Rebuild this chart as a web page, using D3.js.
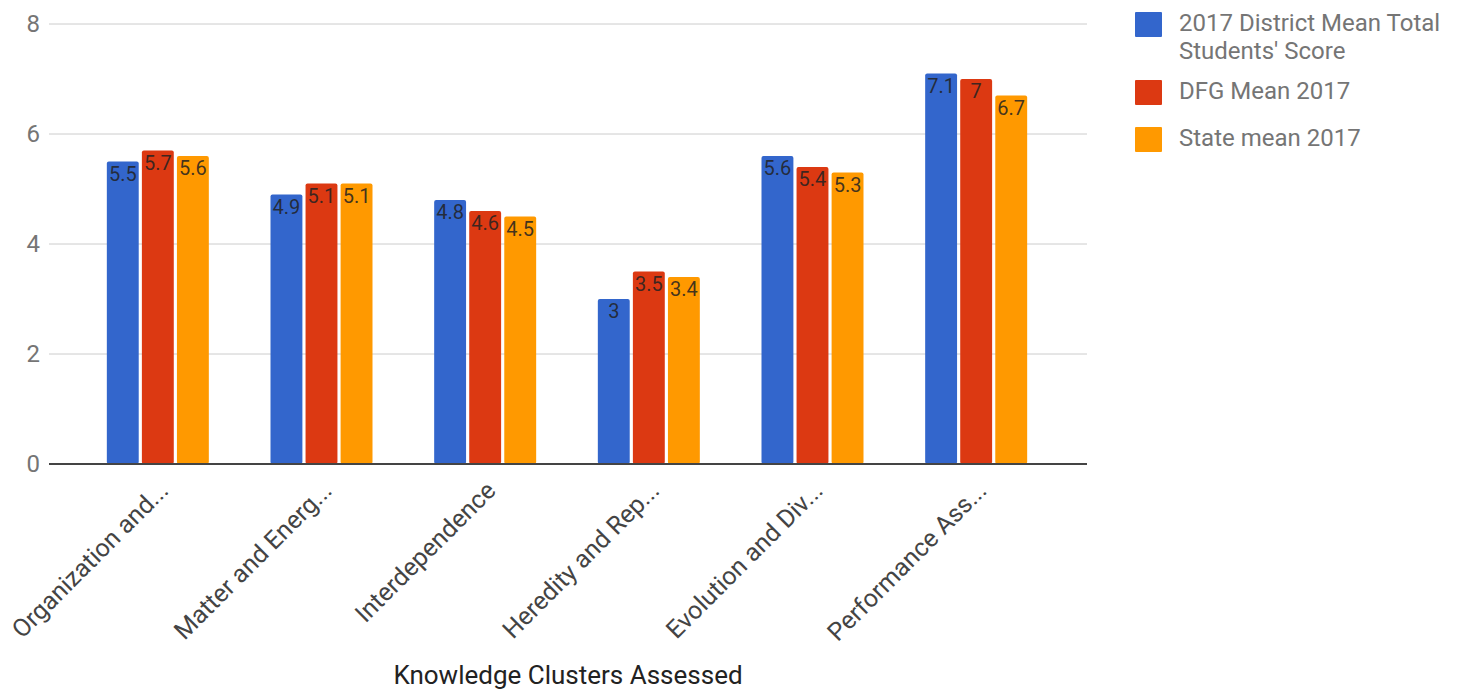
<!DOCTYPE html>
<html>
<head>
<meta charset="utf-8">
<script src="https://cdn.jsdelivr.net/npm/d3@7"></script>
<style>
  body { margin: 0; background: #fff; font-family: Roboto, Arial, sans-serif; }
</style>
</head>
<body>
<svg id="chart"></svg>
<script>
const categories = ['Organization and...', 'Matter and Energ...', 'Interdependence', 'Heredity and Rep...', 'Evolution and Div...', 'Performance Ass...'];
const seriesNames = ["2017 District Mean Total Students' Score", 'DFG Mean 2017', 'State mean 2017'];
const districtMean = [5.5, 4.9, 4.8, 3, 5.6, 7.1];
const dfgMean = [5.7, 5.1, 4.6, 3.5, 5.4, 7];
const stateMean = [5.6, 5.1, 4.5, 3.4, 5.3, 6.7];
const yTicks = [0, 2, 4, 6, 8];
const colors = ['#3366cc', '#dc3912', '#ff9900'];

const width = 1469, height = 691;
const svg = d3.select('#chart').attr('width', width).attr('height', height);

const seriesValues = [districtMean, dfgMean, stateMean];
const data = categories.map((c, i) => ({
  cat: c,
  vals: seriesNames.map((s, j) => ({ series: s, value: seriesValues[j][i], color: colors[j] }))
}));

const y = d3.scaleLinear().domain([0, 8]).range([464, 24]);
const x0 = d3.scaleBand().domain(categories).range([76, 1058]).padding(0);
const groupW = 102;
const x1 = d3.scaleBand().domain(seriesNames).range([0, groupW]).paddingInner(0.09);

// gridlines
svg.append('g')
  .selectAll('line')
  .data(yTicks.filter(t => t > 0))
  .enter()
  .append('line')
  .attr('x1', 49).attr('x2', 1087)
  .attr('y1', d => y(d)).attr('y2', d => y(d))
  .attr('stroke', '#cccccc').attr('stroke-width', 1);

// y tick labels
svg.append('g')
  .selectAll('text')
  .data(yTicks)
  .enter()
  .append('text')
  .attr('x', 40)
  .attr('y', d => y(d) + 8)
  .attr('text-anchor', 'end')
  .style('font-size', '24px')
  .attr('fill', '#757575')
  .text(d => d);

// bars
const groups = svg.append('g')
  .selectAll('g')
  .data(data)
  .enter()
  .append('g')
  .attr('transform', d => `translate(${x0(d.cat) + (x0.bandwidth() - groupW) / 2},0)`);

groups.selectAll('rect')
  .data(d => d.vals)
  .enter()
  .append('rect')
  .attr('x', d => x1(d.series))
  .attr('y', d => y(d.value))
  .attr('width', x1.bandwidth())
  .attr('height', d => y(0) - y(d.value))
  .attr('rx', 2)
  .attr('fill', d => d.color);

groups.selectAll('text')
  .data(d => d.vals)
  .enter()
  .append('text')
  .attr('x', d => x1(d.series) + x1.bandwidth() / 2)
  .attr('y', d => y(d.value) + 19)
  .attr('text-anchor', 'middle')
  .style('font-size', '20px')
  .attr('fill', '#222')
  .attr('fill-opacity', 0.85)
  .text(d => d.value);

// baseline
svg.append('line')
  .attr('x1', 49).attr('x2', 1087)
  .attr('y1', y(0)).attr('y2', y(0))
  .attr('stroke', '#444').attr('stroke-width', 2);

// x labels
svg.append('g')
  .selectAll('text')
  .data(categories)
  .enter()
  .append('text')
  .attr('transform', d => `translate(${x0(d) + x0.bandwidth() / 2 + 12},${492}) rotate(-45)`)
  .attr('text-anchor', 'end')
  .style('font-size', '25px')
  .attr('fill', '#444')
  .text(d => d);

// axis title
svg.append('text')
  .attr('x', 568)
  .attr('y', 684)
  .attr('text-anchor', 'middle')
  .style('font-size', '26px')
  .attr('fill', '#222')
  .text('Knowledge Clusters Assessed');

// legend
const legendRows = [
  { lines: ['2017 District Mean Total', "Students' Score"], y: 12 },
  { lines: ['DFG Mean 2017'], y: 80 },
  { lines: ['State mean 2017'], y: 127 }
];
const legend = svg.append('g')
  .selectAll('g')
  .data(legendRows)
  .enter()
  .append('g')
  .attr('transform', d => `translate(1135,${d.y})`);

legend.append('rect')
  .attr('width', 27).attr('height', 25).attr('rx', 1)
  .attr('fill', (d, i) => colors[i]);

legend.selectAll('text')
  .data(d => d.lines.map((l, i) => ({ line: l, i: i })))
  .enter()
  .append('text')
  .attr('x', 44)
  .attr('y', d => 19 + d.i * 28)
  .style('font-size', '24px')
  .attr('fill', '#757575')
  .text(d => d.line);
</script>
</body>
</html>
